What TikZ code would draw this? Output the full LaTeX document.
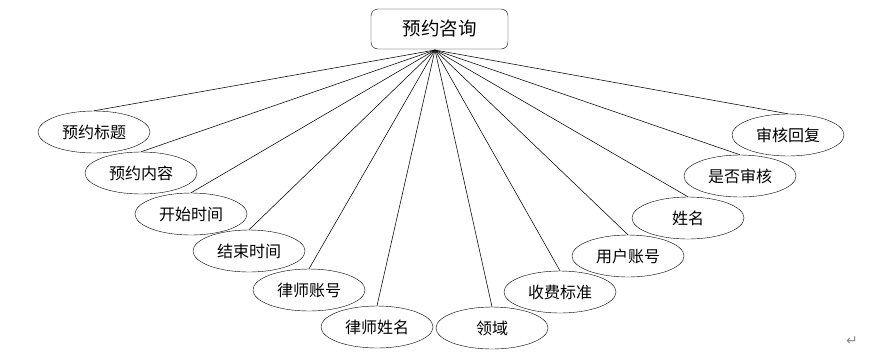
\documentclass[tikz,border=0pt]{standalone}
\usepackage{fontspec}
\setmainfont{Noto Sans CJK SC}
\newfontfamily\symfont{DejaVu Sans}
\usetikzlibrary{shapes.geometric}

\tikzset{
  entbox/.style={draw, rounded corners=7pt, minimum width=137pt, minimum height=40pt, inner sep=0pt, font=\fontsize{18.5}{19}\selectfont},
  attr/.style={draw, ellipse, minimum width=112pt, minimum height=42pt, inner sep=0pt, font=\fontsize{16}{16}\selectfont},
  link/.style={black, line width=0.55pt}
}

\begin{document}
\begin{tikzpicture}[x=1pt, y=-1pt]
\useasboundingbox (0,0) rectangle (893,357);

%\draw (371,9) rectangle (508,49);
\path (439.5,29) node[entbox] (yy) {预约咨询};
\coordinate (apex) at (435,50);

% attributes, left to right
\path (94,132)  node[attr] (bt) {预约标题};
\path (141,173) node[attr] (nr) {预约内容};
\path (191,214) node[attr] (ks) {开始时间};
\path (249,251) node[attr] (js) {结束时间};
\path (309,290) node[attr] (lszh) {律师账号};
\path (377,327) node[attr] (lsxm) {律师姓名};
\path (492,328) node[attr] (ly) {领域};
\path (560,292) node[attr] (sf) {收费标准};
\path (628,256) node[attr] (yhzh) {用户账号};
\path (688,218) node[attr] (xm) {姓名};
\path (740,176) node[attr] (sh) {是否审核};
\path (788,135) node[attr] (hf) {审核回复};

\foreach \a in {bt,nr,ks,js,lszh,lsxm,ly,sf,yhzh,xm,sh,hf}
  \draw[link] (apex) -- (\a.north);

\path (852,341) node[text=black!45, font=\symfont\fontsize{14}{14}\selectfont] (pm) {↵};
\end{tikzpicture}
\end{document}
